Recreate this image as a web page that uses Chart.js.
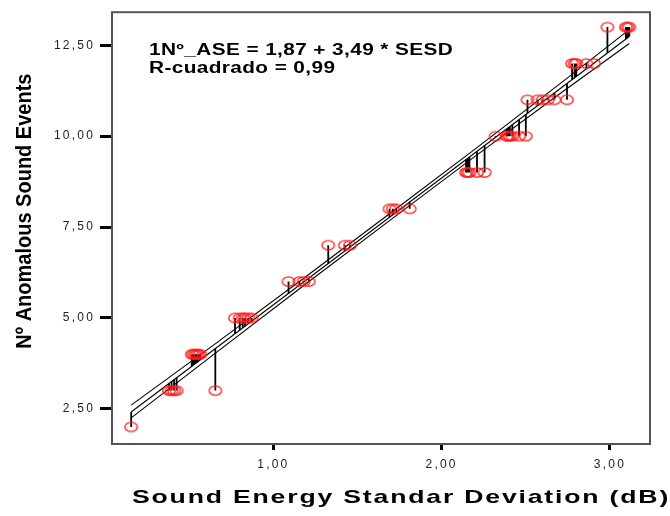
<!DOCTYPE html>
<html><head><meta charset="utf-8">
<script src="https://cdn.jsdelivr.net/npm/chart.js@4/dist/chart.umd.min.js"></script>
<style>html,body{margin:0;padding:0;background:#fff;}#wrap{width:670px;height:516px;}</style>
</head><body><div id="wrap"><canvas id="c" width="670" height="516"></canvas></div>
<script>
// ---- data ----
const xTicks = [1, 2, 3];
const yTicks = [2.5, 5, 7.5, 10, 12.5];
const xRange = [0.041, 3.238];
const yRange = [1.53, 13.41];

// Sound Energy Standard Deviation (x) and Nº Anomalous Sound Events (y)
const sesd = [0.155,
  0.38, 0.395, 0.41, 0.425, 0.655,
  0.515, 0.525, 0.535, 0.545, 0.555, 0.565,
  0.772, 0.80, 0.818, 0.831, 0.851, 0.871,
  1.09, 1.155, 1.18, 1.21,
  1.326, 1.425, 1.455,
  1.69, 1.71, 1.73, 1.81,
  2.145, 2.155, 2.165, 2.21, 2.255,
  2.32, 2.385, 2.395, 2.405, 2.42, 2.46, 2.50,
  2.51, 2.57, 2.60, 2.63, 2.67, 2.745,
  2.775, 2.79, 2.80, 2.86, 2.905,
  2.985, 3.095, 3.105, 3.115];
const ase = [2,
  3, 3, 3, 3, 3,
  4, 4, 4, 4, 4, 4,
  5, 5, 5, 5, 5, 5,
  6, 6, 6, 6,
  7, 7, 7,
  8, 8, 8, 8,
  9, 9, 9, 9, 9,
  10, 10, 10, 10, 10, 10, 10,
  11, 11, 11, 11, 11, 11,
  12, 12, 12, 12, 12,
  13, 13, 13, 13];

// regression printed on the chart
const intercept = 1.87, slope = 3.49, rSquared = 0.99;
const fitX = [0.155, 3.115];
const fitY = [2.41, 12.74];
// confidence band lines
const bandX = [0.155, 0.65, 1.2, 1.7, 2.2, 2.7, 3.115];
const bandUpper = [2.60, 4.27, 6.16, 7.90, 9.65, 11.43, 12.93];
const bandLower = [2.25, 4.01, 5.96, 7.71, 9.45, 11.16, 12.55];

const xTitle = 'Sound Energy Standar Deviation (dB)';
const yTitle = 'Nº Anomalous Sound Events';

// ---- helpers ----
const FONT = "'Liberation Sans', Arial, sans-serif";
const fmt = v => v.toFixed(2).replace('.', ',');
const eqLines = ['1Nº_ASE = ' + fmt(intercept) + ' + ' + fmt(slope) + ' * SESD',
                 'R-cuadrado = ' + fmt(rSquared)];

// ellipse marker (reference markers are wider than tall)
const marker = document.createElement('canvas');
marker.width = 16; marker.height = 13;
(function(){
  const m = marker.getContext('2d');
  m.strokeStyle = '#ff1a1a'; m.lineWidth = 1.3;
  m.beginPath(); m.ellipse(8, 6.5, 6.2, 4.7, 0, 0, Math.PI*2); m.stroke();
})();

const pts = sesd.map((x, i) => ({x, y: ase[i]}));
const spikes = [];
sesd.forEach((x, i) => {
  spikes.push({x, y: ase[i]});
  spikes.push({x, y: intercept + slope * x});
  spikes.push({x, y: null});
});
const fitPts = fitX.map((x, i) => ({x, y: fitY[i]}));
const upPts = bandX.map((x, i) => ({x, y: bandUpper[i]}));
const loPts = bandX.map((x, i) => ({x, y: bandLower[i]}));

const framePlugin = {
  id: 'frame',
  beforeDraw(chart) {
    // opts: letter spacing, stretch factor, anchor x fn, shift
    const wrap = (scale, fn, ls, sx, anchor, dx, dy) => {
      if (!scale || scale['_w_' + fn]) return;
      const orig = scale[fn];
      scale[fn] = function(...a) {
        const c = this.ctx; c.save();
        try { c.letterSpacing = ls; } catch(e) {}
        const ax = anchor(this);
        c.translate(ax + dx, dy); c.scale(sx, 1); c.translate(-ax, 0);
        orig.apply(this, a);
        c.restore();
      };
      scale['_w_' + fn] = true;
    };
    wrap(chart.scales.x, 'drawTitle', '1.3px', 1.4, s => (s.left + s.right) / 2, 20, 0);
    wrap(chart.scales.y, 'drawTitle', '0px', 1.1, s => 25, 0, -17);
    wrap(chart.scales.x, 'drawLabels', '2.2px', 1, s => 0, 0, 0);
    wrap(chart.scales.y, 'drawLabels', '2.2px', 1, s => 0, 0, 0);
  },
  afterDatasetsDraw(chart) {
    const {ctx, chartArea: a} = chart;
    ctx.save();
    ctx.strokeStyle = '#555'; ctx.lineWidth = 2;
    ctx.strokeRect(a.left, a.top, a.right - a.left, a.bottom - a.top);
    ctx.restore();
  },
  afterDraw(chart) {
    const ctx = chart.ctx;
    ctx.save();
    try { ctx.letterSpacing = '0.3px'; } catch(e) {}
    ctx.font = 'bold 16px ' + FONT;
    ctx.fillStyle = '#000';
    ctx.textAlign = 'left'; ctx.textBaseline = 'alphabetic';
    ctx.translate(149, 0); ctx.scale(1.3, 1);
    ctx.fillText(eqLines[0], 0, 55);
    ctx.fillText(eqLines[1], 0, 72.5);
    ctx.restore();
  }
};

new Chart(document.getElementById('c'), {
  type: 'scatter',
  data: { datasets: [
    { label: 'observed', data: pts, pointStyle: marker, pointRadius: 5, showLine: false },
    { label: 'residual', data: spikes, showLine: true, spanGaps: false, borderColor: '#000', borderWidth: 1.8, pointRadius: 0 },
    { label: 'fit', data: fitPts, showLine: true, borderColor: '#000', borderWidth: 1.1, pointRadius: 0 },
    { label: 'upper', data: upPts, showLine: true, borderColor: '#000', borderWidth: 1.1, pointRadius: 0 },
    { label: 'lower', data: loPts, showLine: true, borderColor: '#000', borderWidth: 1.1, pointRadius: 0 }
  ]},
  options: {
    responsive: false, animation: false, devicePixelRatio: 1,
    layout: { padding: { left: 0, top: 9, right: 20, bottom: 0 } },
    plugins: { legend: { display: false }, tooltip: { enabled: false } },
    scales: {
      x: {
        type: 'linear', min: xRange[0], max: xRange[1],
        afterFit: s => { s.height = 72; },
        afterBuildTicks: s => { s.ticks = xTicks.map(v => ({value: v})); },
        grid: { drawOnChartArea: false, drawTicks: true, tickLength: 6, tickWidth: 3, tickColor: '#000' },
        border: { display: false },
        ticks: { callback: v => fmt(v), color: '#222', font: { family: FONT, size: 12 }, padding: 7, maxRotation: 0 },
        title: { display: true, text: xTitle, color: '#000', font: { family: FONT, size: 19, weight: 'bold' }, padding: { top: 0, bottom: 7 } }
      },
      y: {
        type: 'linear', min: yRange[0], max: yRange[1],
        afterFit: s => { s.width = 112; },
        afterBuildTicks: s => { s.ticks = yTicks.map(v => ({value: v})); },
        grid: { drawOnChartArea: false, drawTicks: true, tickLength: 12, tickWidth: 3, tickColor: '#000' },
        border: { display: false },
        ticks: { callback: v => fmt(v), color: '#222', font: { family: FONT, size: 12 }, padding: 5 },
        title: { display: true, text: yTitle, color: '#000', font: { family: FONT, size: 20, weight: 'bold' }, padding: { top: 13, bottom: 0 } }
      }
    }
  },
  plugins: [framePlugin]
});
</script></body></html>
